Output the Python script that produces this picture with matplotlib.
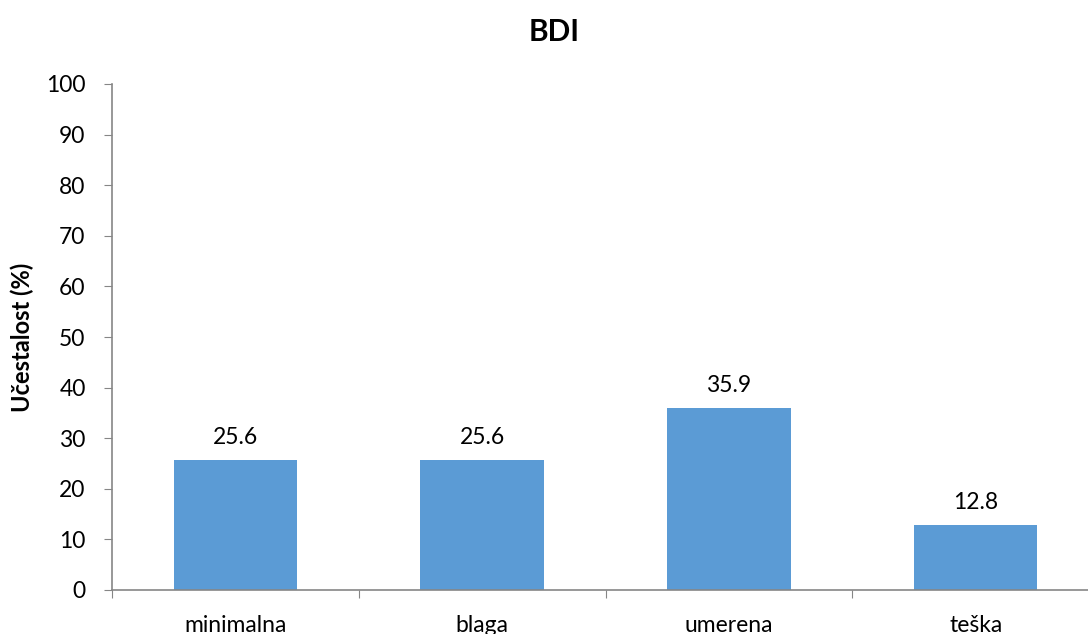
import matplotlib
matplotlib.use("Agg")
import matplotlib.pyplot as plt

categories = ["minimalna", "blaga", "umerena", "teška"]
values = [25.6, 25.6, 35.9, 12.8]
yticks = [0, 10, 20, 30, 40, 50, 60, 70, 80, 90, 100]

plt.rcParams['font.family'] = ['Lato', 'DejaVu Sans']

fig = plt.figure(figsize=(10.88, 6.34), dpi=100)
ax = fig.add_axes([112/1088, 44/634, 987/1088, 506/634])
x = range(len(categories))
ax.bar(x, values, width=0.5, color="#5B9BD5", zorder=2)
for xi, v in zip(x, values):
    ax.annotate(f"{v:.1f}", (xi, v), xytext=(0, 9), textcoords="offset points",
                ha="center", va="bottom", fontsize=16.5)

ax.set_xlim(-0.5, 3.5)
ax.set_ylim(0, 100)
ax.set_yticks(yticks)
ax.set_yticklabels([str(t) for t in yticks], fontsize=16.5)
ax.set_xticks([-0.5, 0.5, 1.5, 2.5, 3.5])
ax.set_xticklabels([])
ax.set_xticks(list(x), minor=True)
ax.set_xticklabels(categories, minor=True, fontsize=16.5)
ax.tick_params(axis="x", which="minor", length=0, pad=18)
ax.tick_params(axis="x", which="major", length=6, color="#868686", direction="out")
ax.tick_params(axis="y", length=6, color="#868686", direction="out", pad=13)

for s in ["top", "right"]:
    ax.spines[s].set_visible(False)
for s in ["left", "bottom"]:
    ax.spines[s].set_color("#868686")
    ax.spines[s].set_linewidth(1.2)

ax.set_ylabel("Učestalost (%)", fontsize=17, fontweight="bold", labelpad=9)
fig.text(554/1088, 1 - 32/634, "BDI", ha="center", va="center", fontsize=21.5, fontweight="bold")

fig.savefig("out.png", dpi=100)
